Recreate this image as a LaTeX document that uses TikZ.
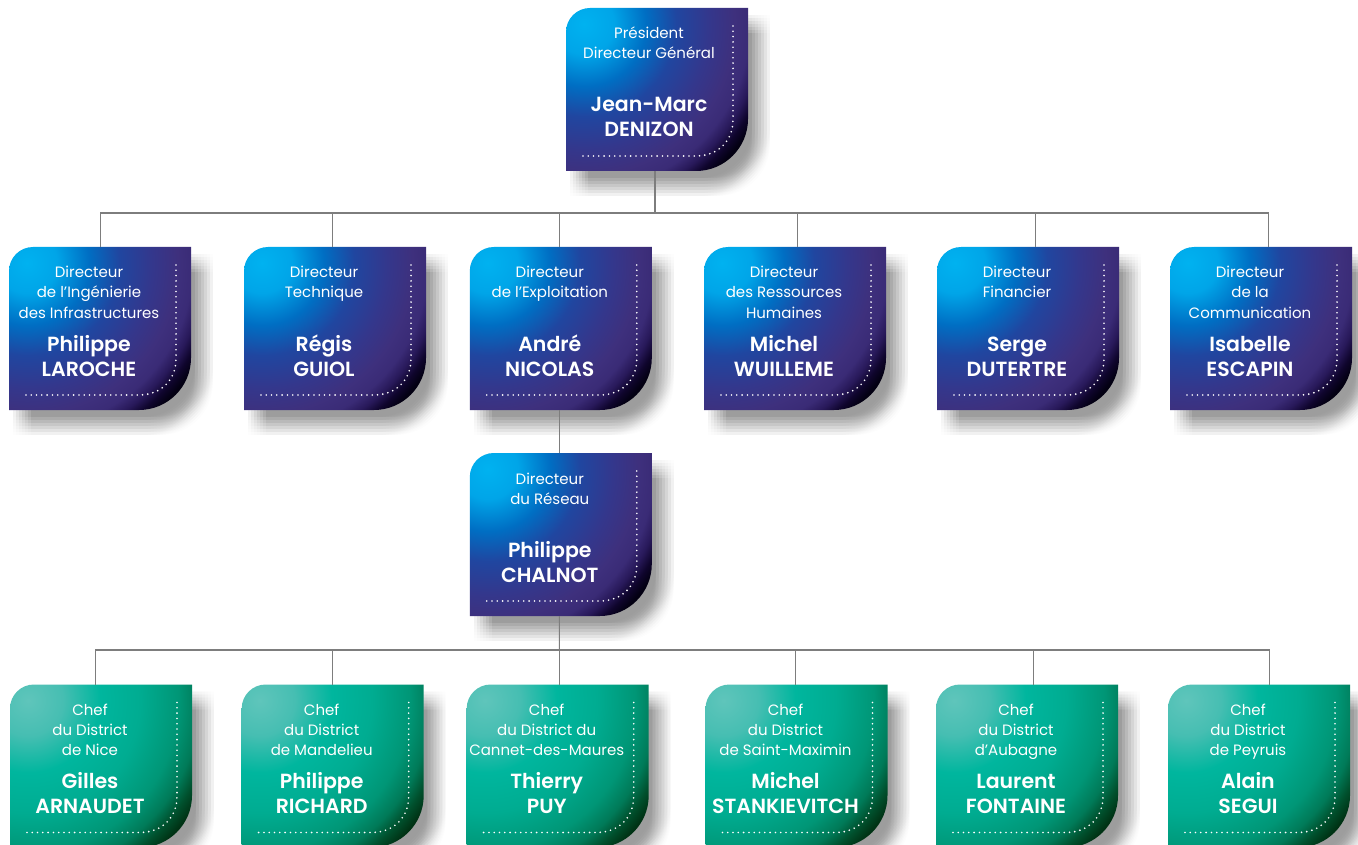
\documentclass[tikz,border=0pt]{standalone}
\usepackage{fontspec}
\setmainfont{Poppins}[BoldFont={Poppins SemiBold}]
\usetikzlibrary{calc}
\definecolor{connc}{RGB}{125,125,125}
\pgfdeclareradialshading{blueshade}{\pgfpointorigin}{%
 color(0bp)=(rgb,255:red,0;green,178;blue,240);
 color(30bp)=(rgb,255:red,0;green,165;blue,232);
 color(62bp)=(rgb,255:red,0;green,110;blue,195);
 color(92bp)=(rgb,255:red,32;green,70;blue,160);
 color(125bp)=(rgb,255:red,52;green,55;blue,140);
 color(150bp)=(rgb,255:red,62;green,48;blue,125);
 color(165bp)=(rgb,255:red,58;green,43;blue,118);
 color(176bp)=(rgb,255:red,40;green,25;blue,90);
 color(186bp)=(rgb,255:red,15;green,5;blue,45);
 color(195bp)=(rgb,255:red,3;green,0;blue,18);
 color(260bp)=(rgb,255:red,0;green,0;blue,10)}
\pgfdeclareradialshading{greenshade}{\pgfpointorigin}{%
 color(0bp)=(rgb,255:red,95;green,197;blue,187);
 color(35bp)=(rgb,255:red,70;green,190;blue,178);
 color(72bp)=(rgb,255:red,0;green,182;blue,158);
 color(112bp)=(rgb,255:red,0;green,172;blue,145);
 color(150bp)=(rgb,255:red,0;green,150;blue,118);
 color(170bp)=(rgb,255:red,0;green,122;blue,88);
 color(184bp)=(rgb,255:red,0;green,80;blue,45);
 color(196bp)=(rgb,255:red,0;green,50;blue,20);
 color(260bp)=(rgb,255:red,0;green,40;blue,15)}
\tikzset{
  boxarea/.style={rectangle, minimum width=182pt, minimum height=163pt, inner sep=0pt, outer sep=0pt, draw=none},
  smalltxt/.style={anchor=base, text=white, inner sep=0pt, font=\fontsize{15}{18}\selectfont},
  boldtxt/.style={anchor=base, text=white, inner sep=0pt, font=\fontsize{20.5}{24}\selectfont\bfseries},
  dotline/.style={draw=white, line width=1.8pt, line cap=round, dash pattern=on 0pt off 5.3pt},
  conn/.style={draw=connc, line width=1.1pt},
  shadowlayer/.style={fill=black, opacity=0.009}
}
\newcommand\orgfill[1]{\fill[#1] (0,163) -- (0,24) .. controls (0,10.75) and (10.75,0) .. (24,0) -- (182,0) -- (182,111) .. controls (182,139.7) and (158.7,163) .. (130,163) -- cycle;}
\newcommand\orgclip{\clip (0,163) -- (0,24) .. controls (0,10.75) and (10.75,0) .. (24,0) -- (182,0) -- (182,111) .. controls (182,139.7) and (158.7,163) .. (130,163) -- cycle;}
\newcommand\orgunit[7]{%
 \begin{scope}[shift={(#2,#3)}]
  \foreach \sx in {-9,-6,...,9} {\foreach \sy in {-9,-6,...,9} {\orgfill{shadowlayer, shift={(13+\sx,16+\sy)}}}}
  \begin{scope}
   \orgclip
   \node[inner sep=0pt, outer sep=0pt] (#1-sh) at (18,16) {\pgfuseshading{#4}};
  \end{scope}
  \draw[dotline] (167,18) -- (167,112) .. controls (167,133) and (152,148) .. (130,148) -- (13,148);
 \end{scope}
 \node[boxarea, anchor=north west] (#1) at (#2,#3) {};
 \foreach \lineT [count=\i] in {#6} {\node[smalltxt] (#1-s\i) at ($(#1.north west)+(#5,11+20*\i)$) {\lineT};}
 \foreach \lineT [count=\i] in {#7} {\node[boldtxt] (#1-b\i) at ($(#1.north west)+(#5,79+25*\i)$) {\lineT};}
}
\begin{document}
\begin{tikzpicture}[x=1pt,y=-1pt]
\useasboundingbox (0,0) rectangle (1358,845);
\fill[white] (0,0) rectangle (1358,845);
\clip (0,0) rectangle (1358,845);
% top
\orgunit{pdg}{566}{8}{blueshade}{83}{Président,Directeur Général}{Jean-Marc,DENIZON}
% row 2
\orgunit{d1}{9}{247}{blueshade}{80}{Directeur,de l’Ingénierie,des Infrastructures}{Philippe,LAROCHE}
\orgunit{d2}{244}{247}{blueshade}{80}{Directeur,Technique}{Régis,GUIOL}
\orgunit{d3}{469.8}{247}{blueshade}{80}{Directeur,de l'Exploitation}{André,NICOLAS}
\orgunit{d4}{704}{247}{blueshade}{80}{Directeur,des Ressources,Humaines}{Michel,WUILLEME}
\orgunit{d5}{937}{247}{blueshade}{80}{Directeur,Financier}{Serge,DUTERTRE}
\orgunit{d6}{1170}{247}{blueshade}{80}{Directeur,de la,Communication}{Isabelle,ESCAPIN}
% reseau
\orgunit{res}{469.8}{453}{blueshade}{80}{Directeur,du Réseau}{Philippe,CHALNOT}
% districts
\orgunit{g1}{10}{684.5}{greenshade}{80}{Chef,du District,de Nice}{Gilles,ARNAUDET}
\orgunit{g2}{241.7}{684.5}{greenshade}{80}{Chef,du District,de Mandelieu}{Philippe,RICHARD}
\orgunit{g3}{466.7}{684.5}{greenshade}{80}{Chef,du District du,Cannet-des-Maures}{Thierry,PUY}
\orgunit{g4}{705.5}{684.5}{greenshade}{80}{Chef,du District,de Saint-Maximin}{Michel,STANKIEVITCH}
\orgunit{g5}{936}{684.5}{greenshade}{80}{Chef,du District,d'Aubagne}{Laurent,FONTAINE}
\orgunit{g6}{1168}{684.5}{greenshade}{80}{Chef,du District,de Peyruis}{Alain,SEGUI}
% connectors
\coordinate (busA) at (655,213);
\draw[conn] ([xshift=-2pt]pdg.south) -- (busA);
\foreach \n/\dx in {d1/0.6,d2/-2.4,d3/-1.4,d4/2.3,d5/7.3,d6/7.6}
  \draw[conn] (busA) -| ([xshift=\dx pt]\n.north);
\draw[conn] ([xshift=-1.4pt]d3.south) -- ([xshift=-1.4pt]res.north);
\coordinate (busB) at (559.4,650);
\draw[conn] ([xshift=-1.4pt]res.south) -- (busB);
\foreach \n/\dx in {g1/-5.6,g2/-0.1,g3/1.7,g4/-1,g5/6.6,g6/10.5}
  \draw[conn] (busB) -| ([xshift=\dx pt]\n.north);
\end{tikzpicture}
\end{document}
